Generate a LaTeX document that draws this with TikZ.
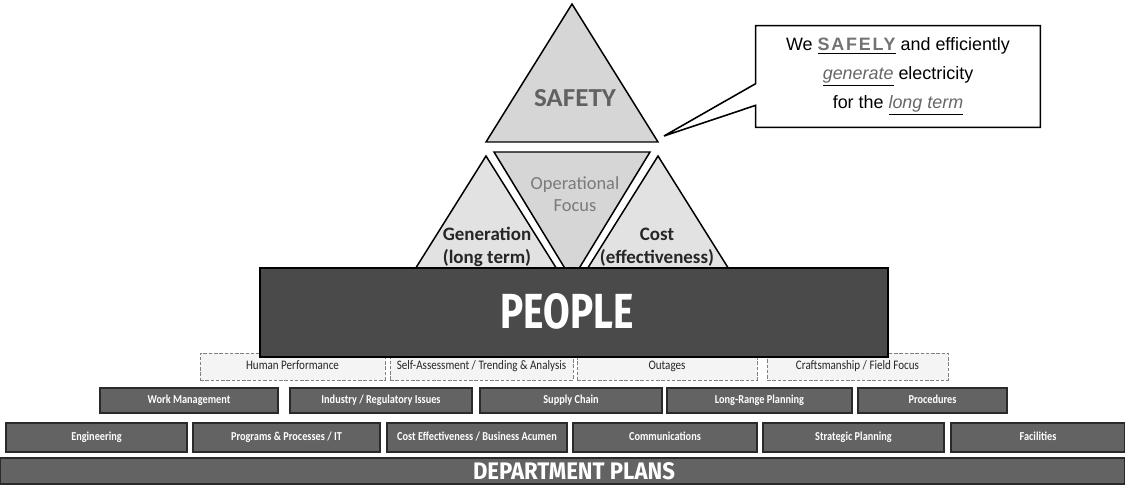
\documentclass[tikz,border=0pt]{standalone}
\usepackage{fontspec}
\usepackage{graphicx}
\setmainfont{Carlito}
\newfontfamily\arialf{Liberation Sans}
\newfontfamily\arialwide[LetterSpace=10]{Liberation Sans}
\newfontfamily\firaf{Fira Sans}
\usetikzlibrary{calc}
\definecolor{trifillA}{HTML}{D6D6D6}
\definecolor{trifillB}{HTML}{E2E2E2}
\definecolor{peoplefill}{HTML}{4A4A4A}
\definecolor{darkfill}{HTML}{636363}
\definecolor{darkline}{HTML}{2A2A2A}
\definecolor{lightfill}{HTML}{F4F4F4}
\definecolor{lightline}{HTML}{808080}
\definecolor{opgray}{HTML}{7A7A7A}
\newcommand\cnd[1]{\scalebox{0.85}[1]{#1}}
\tikzset{
  sz/.style 2 args={minimum width={(#1)*0.02cm}, minimum height={(#2)*0.02cm}},
  tri/.style={draw=black, line width=0.85pt, line join=miter},
  trilabel/.style={font=\bfseries\fontsize{10.8}{13}\selectfont, align=center, text=black!85, inner sep=0pt},
  oplabel/.style={font=\fontsize{10.5}{12.5}\selectfont, align=center, text=opgray, inner sep=0pt},
  lightbox/.style={rectangle, draw=lightline, fill=lightfill, line width=0.5pt, dash pattern=on 2pt off 1pt, inner sep=0pt, text height=5.4pt, text depth=1.5pt, font=\fontsize{7.4}{9}\selectfont, text=black!85},
  darkbox/.style={rectangle, draw=darkline, fill=darkfill, line width=0.6pt, inner sep=0pt, text height=4.9pt, text depth=1.4pt, font=\bfseries\fontsize{6.9}{8}\selectfont, text=white},
  peoplebox/.style={rectangle, draw=black, fill=peoplefill, line width=1pt, inner sep=0pt, text=white},
  calloutbox/.style={rectangle, inner sep=0pt, align=center, font=\arialf\fontsize{10.2}{16.4}\selectfont},
}
\begin{document}
\begin{tikzpicture}[x=0.02cm, y=-0.02cm]
\useasboundingbox (0,0) rectangle (1125,486);
\fill[white] (0,0) rectangle (1125,486);

% triangles
\draw[tri, fill=trifillA] (572,4) -- (486,142) -- (658,142) -- cycle;
\draw[tri, fill=trifillA] (494,152) -- (650,152) -- (572,280) -- cycle;
\draw[tri, fill=trifillB] (486,156) -- (402,290) -- (570,290) -- cycle;
\draw[tri, fill=trifillB] (658,156) -- (574,290) -- (742,290) -- cycle;

\node (safety) at (575,98) {\resizebox{1.64cm}{0.34cm}{\bfseries\color{black!62}SAFETY}};
\node[oplabel] (opfocus) at (575,194) {Operational\\Focus};
\node[trilabel] (gen) at (487,247) {Generation\\(long term)};
\node[trilabel] (cost) at (657,247) {Cost\\(effectiveness)};

% callout
\node[calloutbox, sz={284}{101}] (call) at (898,76.5) {};
\coordinate (tip) at (664,136);
\draw[line width=0.9pt, fill=white, line join=miter]
  (call.north west) -- (call.north east) -- (call.south east) -- (call.south west)
  -- ($(call.south west)+(0,-22)$) -- (tip) -- ($(call.north west)+(0,58)$) -- cycle;
\node[calloutbox] (calltxt) at (call.center) {We \underline{{\arialwide\bfseries\color{black!55}SAFELY}} and efficiently\\
\underline{\textit{\color{black!60}generate}} electricity\\
for the \underline{\textit{\color{black!60}long term}}};

% row 1
\node[lightbox, sz={185}{27}] (hp) at (292.5,366.5) {\cnd{Human Performance}};
\node[lightbox, sz={183}{27}] (sa) at (481.5,366.5) {\cnd{Self-Assessment / Trending \& Analysis}};
\node[lightbox, sz={180}{27}] (og) at (667,366.5) {\cnd{Outages}};
\node[lightbox, sz={181}{27}] (cf) at (857.5,366.5) {\cnd{Craftsmanship / Field Focus}};

% people
\node[peoplebox, sz={628}{89}] (people) at (574,312.5) {};
\node[text=white] (peopletxt) at (567,311) {\resizebox{2.66cm}{0.7cm}{\firaf\bfseries PEOPLE}};

% row 2
\node[darkbox, sz={178}{25}] (wm) at (189,400.5) {\cnd{Work Management}};
\node[darkbox, sz={182}{25}] (ir) at (381,400.5) {\cnd{Industry / Regulatory Issues}};
\node[darkbox, sz={182}{25}] (sc) at (571,400.5) {\cnd{Supply Chain}};
\node[darkbox, sz={185}{25}] (lr) at (759.5,400.5) {\cnd{Long-Range Planning}};
\node[darkbox, sz={149}{25}] (pr) at (932.5,400.5) {\cnd{Procedures}};

% row 3
\node[darkbox, sz={181}{29}] (en) at (96.5,437.5) {\cnd{Engineering}};
\node[darkbox, sz={187}{29}] (pp) at (286.5,437.5) {\cnd{Programs \& Processes / IT}};
\node[darkbox, sz={180}{29}] (ce) at (477,437.5) {\cnd{Cost Effectiveness / Business Acumen}};
\node[darkbox, sz={184}{29}] (co) at (665,437.5) {\cnd{Communications}};
\node[darkbox, sz={181}{29}] (sp) at (853.5,437.5) {\cnd{Strategic Planning}};
\node[darkbox, sz={174}{29}] (fa) at (1038,437.5) {\cnd{Facilities}};

% department plans
\node[darkbox, sz={1125}{26}] (dept) at (562.5,471) {};
\node[text=white] (depttxt) at (574,471) {\resizebox{4.04cm}{0.34cm}{\firaf\bfseries DEPARTMENT PLANS}};
\end{tikzpicture}
\end{document}
